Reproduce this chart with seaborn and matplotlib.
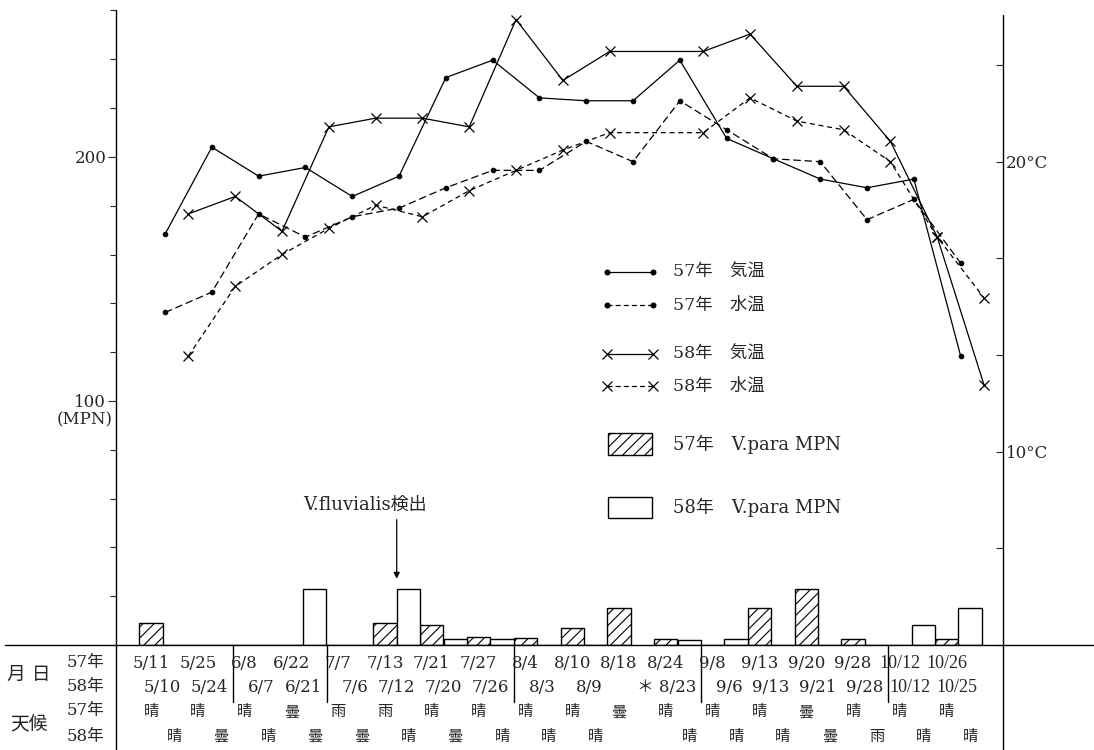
import matplotlib
matplotlib.use("Agg")
import numpy as np
import pandas as pd
import matplotlib.pyplot as plt
import matplotlib.transforms as mtransforms
from matplotlib.lines import Line2D
from matplotlib.patches import Rectangle
import seaborn as sns

# ---------------- data ----------------
dates57 = ['5/11', '5/25', '6/8', '6/22', '7/7', '7/13', '7/21', '7/27', '8/4',
           '8/10', '8/18', '8/24', '9/8', '9/13', '9/20', '9/28', '10/12', '10/26']
dates58 = ['5/10', '5/24', '6/7', '6/21', '7/6', '7/12', '7/20', '7/26', '8/3',
           '8/9', '＊ 8/23', '9/6', '9/13', '9/21', '9/28', '10/12', '10/25']
slot58 = [0, 1, 2, 3, 4, 5, 6, 7, 8, 9, 11, 12, 13, 14, 15, 16, 17]

weather57 = ['晴', '晴', '晴', '曇', '雨', '雨', '晴', '晴', '晴', '晴', '曇', '晴',
             '晴', '晴', '曇', '晴', '晴', '晴']
weather58 = ['晴', '曇', '晴', '曇', '曇', '晴', '曇', '晴', '晴', '晴', '晴', '晴',
             '晴', '曇', '雨', '晴', '晴']

air57 = [17.5, 20.5, 19.5, 19.8, 18.8, 19.5, 22.9, 23.5, 22.2, 22.1, 22.1, 23.5,
         20.8, 20.1, 19.4, 19.1, 19.4, 13.3]
water57 = [14.8, 15.5, 18.2, 17.4, 18.1, 18.4, 19.1, 19.7, 19.7, 20.7, 20.0, 22.1,
           21.1, 20.1, 20.0, 18.0, 18.7, 16.5]
air58 = [18.2, 18.8, 17.6, 21.2, 21.5, 21.5, 21.2, 24.9, 22.8, 23.8, 23.8, 24.4,
         22.6, 22.6, 20.7, 17.4, 12.3]
water58 = [13.3, 15.7, 16.8, 17.7, 18.5, 18.1, 19.0, 19.7, 20.4, 21.0, 21.0, 22.2,
           21.4, 21.1, 20.0, 17.4, 15.3]

mpn57 = [9, 0, 0, 0, 0, 9, 8, 3.3, 3, 7, 15, 2.5, 0, 15, 23, 2.5, 0, 2.5]
mpn58 = [0, 0, 0, 23, 0, 23, 2.5, 2.5, 0, 0, 2, 2.5, 0, 0, 0, 8, 15]

# ---------------- style ----------------
sns.set_style("white")
plt.rcParams['font.family'] = ['DejaVu Serif', 'Noto Sans CJK JP', 'DejaVu Sans']
plt.rcParams['hatch.linewidth'] = 0.8
plt.rcParams['axes.unicode_minus'] = False
NARROW = ['Liberation Serif', 'Noto Sans CJK JP', 'DejaVu Sans']

W, H = 1094, 750
fig = plt.figure(figsize=(W / 100, H / 100), dpi=100)
AX_L, AX_R, AX_T, AX_B = 116, 1003, 10, 645
ax = fig.add_axes([AX_L / W, 1 - AX_B / H, (AX_R - AX_L) / W, (AX_B - AX_T) / H])
ax2 = ax.twinx()

# positions (half-slot units): 57 on even, 58 on odd
pos57 = np.arange(len(dates57)) * 2.0
pos58 = np.array(slot58) * 2.0 + 1.0
PT_OFF = 0.6   # points sit just right of the bar centre

# ---------------- bars ----------------
df57 = pd.DataFrame({'x': pos57, 'y': mpn57})
df58 = pd.DataFrame({'x': pos58, 'y': mpn58})
sns.barplot(data=df57, x='x', y='y', native_scale=True, width=0.5, ax=ax,
            color='white', saturation=1, edgecolor='black', linewidth=1.0,
            hatch='///', errorbar=None, zorder=2)
sns.barplot(data=df58, x='x', y='y', native_scale=True, width=0.5, ax=ax,
            color='white', saturation=1, edgecolor='black', linewidth=1.0,
            errorbar=None, zorder=2)

# ---------------- temperature lines ----------------
dot = dict(marker='o', markersize=3.3, markerfacecolor='black', markeredgecolor='black')
crs = dict(marker='x', markersize=7, markeredgewidth=0.9, markeredgecolor='black')
sns.lineplot(x=pos57 + PT_OFF, y=air57, ax=ax2, color='black', lw=0.9, sort=False,
             estimator=None, linestyle='-', **dot)
sns.lineplot(x=pos57 + PT_OFF, y=water57, ax=ax2, color='black', lw=0.9, sort=False,
             estimator=None, linestyle=(0, (6, 3)), **dot)
sns.lineplot(x=pos58 + PT_OFF, y=air58, ax=ax2, color='black', lw=0.9, sort=False,
             estimator=None, linestyle='-', **crs)
sns.lineplot(x=pos58 + PT_OFF, y=water58, ax=ax2, color='black', lw=0.9, sort=False,
             estimator=None, linestyle=(0, (4, 3)), **crs)

# ---------------- axes ----------------
xl = ((AX_L - 151) / 23.4, (AX_R - 151) / 23.4)
ax.set_xlim(*xl)
ax2.set_xlim(*xl)
ax.set_ylim(0, 260.2)
ax2.set_ylim(10 / 3, 25.23)
for a in (ax, ax2):
    a.set_xlabel('')
    a.set_ylabel('')
    a.set_xticks([])
    for s in a.spines.values():
        s.set_visible(False)

FS = 12
ax.set_yticks([100, 200])
ax.set_yticklabels(['100', '200'], fontsize=FS)
ax.set_yticks(np.arange(0, 261, 20), minor=True)
ax.tick_params(axis='y', which='both', direction='out', length=4, width=0.8,
               pad=1, left=True, right=False)
ax.tick_params(axis='y', which='major', length=6)

ax2.set_yticks([10, 20])
ax2.set_yticklabels(['10°C', '20°C'], fontsize=FS)
ax2.set_yticks([10 / 3 * n for n in range(1, 8)], minor=True)
ax2.tick_params(axis='y', which='both', direction='in', length=5, width=0.8,
                pad=2, right=True, left=False)

ax.text(-0.004, (AX_B - 420) / ((AX_B - AX_T) / 260.2), '(MPN)', fontsize=FS,
        ha='right', va='center',
        transform=mtransforms.blended_transform_factory(ax.transAxes, ax.transData))

# frame lines extending into the table
lk = dict(color='black', lw=1.0, transform=fig.transFigure)
fig.add_artist(Line2D([AX_L / W, AX_L / W], [0, 1 - AX_T / H], **lk))
fig.add_artist(Line2D([AX_R / W, AX_R / W], [0, 1 - 15 / H], **lk))
fig.add_artist(Line2D([5 / W, 1], [1 - AX_B / H, 1 - AX_B / H], **lk))

# month separators
tr = mtransforms.blended_transform_factory(ax.transData, ax.transAxes)
months = [d.split('/')[0] for d in dates57]
for i in range(len(months) - 1):
    if months[i] != months[i + 1]:
        xs = pos57[i] + 1.5
        ax.plot([xs, xs], [0, -0.09], color='black', lw=1.0, transform=tr, clip_on=False)

# ---------------- table text ----------------
def ay(py):
    return (AX_B - py) / (AX_B - AX_T)


def date_font(t):
    # two-digit months were set in a condensed face
    return dict(family=NARROW, fontsize=13) if t.startswith('10') else dict(fontsize=FS)


for x, t in zip(pos57, dates57):
    ax.text(x, ay(663), t, ha='center', va='center', transform=tr, **date_font(t))
for x, t in zip(pos58, dates58):
    ax.text(x + 0.3, ay(688), t, ha='right', va='center', transform=tr, **date_font(t))
for x, t in zip(pos57, weather57):
    ax.text(x, ay(712), t, ha='center', va='center', fontsize=11, transform=tr)
for x, t in zip(pos58, weather58):
    ax.text(x, ay(737), t, ha='center', va='center', fontsize=11, transform=tr)

fig.text(29 / W, 1 - 675 / H, '月 日', ha='center', va='center', fontsize=13.5)
fig.text(29 / W, 1 - 724 / H, '天候', ha='center', va='center', fontsize=13.5)
for py, t in [(662, '57年'), (687, '58年'), (711, '57年'), (736, '58年')]:
    fig.text(85 / W, 1 - py / H, t, ha='center', va='center', fontsize=12)

# ---------------- legend ----------------
def axx(px):
    return (px - AX_L) / (AX_R - AX_L)


leg = [(272, '-', dot, '57年　気温'), (305, (0, (4, 2.5)), dot, '57年　水温'),
       (354, '-', crs, '58年　気温'), (386, (0, (4, 2.5)), crs, '58年　水温')]
for py, ls, mk, lab in leg:
    ax.plot([axx(607), axx(653)], [ay(py), ay(py)], color='black', lw=0.9, ls=ls,
            transform=ax.transAxes, clip_on=False, **mk)
    ax.text(axx(673), ay(py), lab, fontsize=12.5, va='center', ha='left',
            transform=ax.transAxes)

ax.add_patch(Rectangle((axx(608), ay(455)), axx(652) - axx(608), ay(433) - ay(455),
                       facecolor='white', edgecolor='black', hatch='///', lw=1.0,
                       transform=ax.transAxes, clip_on=False))
ax.text(axx(673), ay(444), '57年　V.para MPN', fontsize=13, va='center',
        transform=ax.transAxes)
ax.add_patch(Rectangle((axx(608), ay(518)), axx(652) - axx(608), ay(497) - ay(518),
                       facecolor='white', edgecolor='black', lw=1.0,
                       transform=ax.transAxes, clip_on=False))
ax.text(axx(673), ay(507), '58年　V.para MPN', fontsize=13, va='center',
        transform=ax.transAxes)

# ---------------- annotation ----------------
arrow_x = pos58[5] - 0.5
ax.annotate('', xy=(arrow_x, 26), xytext=(arrow_x, 52.5),
            arrowprops=dict(arrowstyle='-|>', color='black', lw=0.9, mutation_scale=9))
ax.text(arrow_x - 1.35, 57.5, 'V.fluvialis検出', ha='center', va='center', fontsize=13)

fig.savefig('out.png', dpi=100)
